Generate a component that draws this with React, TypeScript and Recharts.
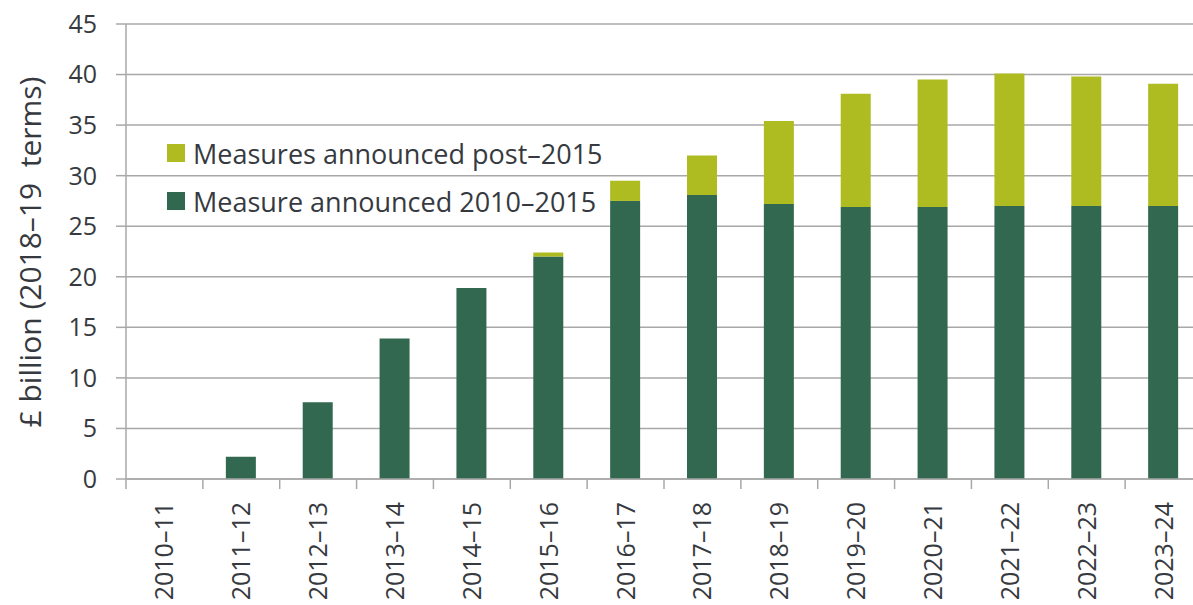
import { BarChart, Bar, XAxis, YAxis, CartesianGrid, Legend } from 'recharts';

const years = ['2010–11', '2011–12', '2012–13', '2013–14', '2014–15', '2015–16', '2016–17', '2017–18', '2018–19', '2019–20', '2020–21', '2021–22', '2022–23', '2023–24'];
const measures2010to2015 = [0, 2.2, 7.6, 13.9, 18.9, 22.0, 27.5, 28.1, 27.2, 26.9, 26.9, 27.0, 27.0, 27.0];
const measuresPost2015 = [0, 0, 0, 0, 0, 0.4, 2.0, 3.9, 8.2, 11.2, 12.6, 13.1, 12.8, 12.1];
const yTicks = [0, 5, 10, 15, 20, 25, 30, 35, 40, 45];

const DARK = '#336850';
const LIGHT = '#AEBC21';
const GRID = '#a8a8a8';
const TEXT = '#363a40';
const FONT = '"Open Sans", sans-serif';

const CHART_W = 1202;
const CHART_H = 605;
const Y_AXIS_W = 126;
const BAND = (CHART_W - Y_AXIS_W) / years.length;

const data = years.map((year, i) => ({
    year,
    early: measures2010to2015[i],
    post: measuresPost2015[i],
}));

const legendItems = [
    { label: 'Measures announced post–2015', color: LIGHT },
    { label: 'Measure announced 2010–2015', color: DARK },
];

function XTick({ x, y, payload }: any) {
    return (
        <g>
            <line x1={x - BAND / 2} x2={x - BAND / 2} y1={y} y2={y + 10} stroke={GRID} strokeWidth={1.5} />
            <text
                x={x}
                y={y + 23}
                transform={`rotate(-90 ${x} ${y + 23})`}
                textAnchor="end"
                dy="0.36em"
                fill={TEXT}
                fontSize={25}
                fontFamily={FONT}
            >
                {payload.value}
            </text>
        </g>
    );
}

function LegendBox() {
    return (
        <div style={{ fontFamily: FONT, fontSize: 27, color: TEXT }}>
            {legendItems.map(item => (
                <div key={item.label} style={{ display: 'flex', alignItems: 'center', height: 48, whiteSpace: 'nowrap' }}>
                    <span style={{ width: 18, height: 18, background: item.color, marginRight: 8, display: 'inline-block', flexShrink: 0 }} />
                    <span>{item.label}</span>
                </div>
            ))}
        </div>
    );
}

export default function App() {
    return (
        <div style={{ position: 'absolute', left: 0, top: 0, width: 1193, height: 605, overflow: 'hidden', background: '#fff' }}>
            <BarChart
                width={CHART_W}
                height={CHART_H}
                data={data}
                margin={{ top: 24, right: 0, bottom: 0, left: 0 }}
                barSize={30}
            >
                <CartesianGrid vertical={false} stroke={GRID} strokeWidth={1.5} />
                <XAxis
                    dataKey="year"
                    height={126}
                    interval={0}
                    tickSize={0}
                    tickMargin={0}
                    tickLine={false}
                    axisLine={{ stroke: GRID, strokeWidth: 1.5 }}
                    tick={<XTick />}
                />
                <YAxis
                    width={Y_AXIS_W}
                    domain={[0, 45]}
                    ticks={yTicks}
                    interval={0}
                    tickSize={10}
                    tickMargin={19}
                    axisLine={{ stroke: GRID, strokeWidth: 1.5 }}
                    tickLine={{ stroke: GRID, strokeWidth: 1.5 }}
                    tick={{ fill: TEXT, fontSize: 25, fontFamily: FONT }}
                    label={{
                        content: () => (
                            <text
                                x={29}
                                y={252}
                                transform="rotate(-90 29 252)"
                                textAnchor="middle"
                                dominantBaseline="central"
                                fill={TEXT}
                                fontSize={30}
                                fontFamily={FONT}
                                style={{ whiteSpace: 'pre' }}
                            >
                                £ billion (2018–19  terms)
                            </text>
                        ),
                    }}
                />
                <Legend
                    layout="horizontal"
                    verticalAlign="middle"
                    align="center"
                    wrapperStyle={{ position: 'absolute', left: 167, top: 129, width: 520, height: 96 }}
                    content={<LegendBox />}
                />
                <Bar dataKey="early" stackId="a" fill={DARK} isAnimationActive={false} />
                <Bar dataKey="post" stackId="a" fill={LIGHT} isAnimationActive={false} />
            </BarChart>
        </div>
    );
}
